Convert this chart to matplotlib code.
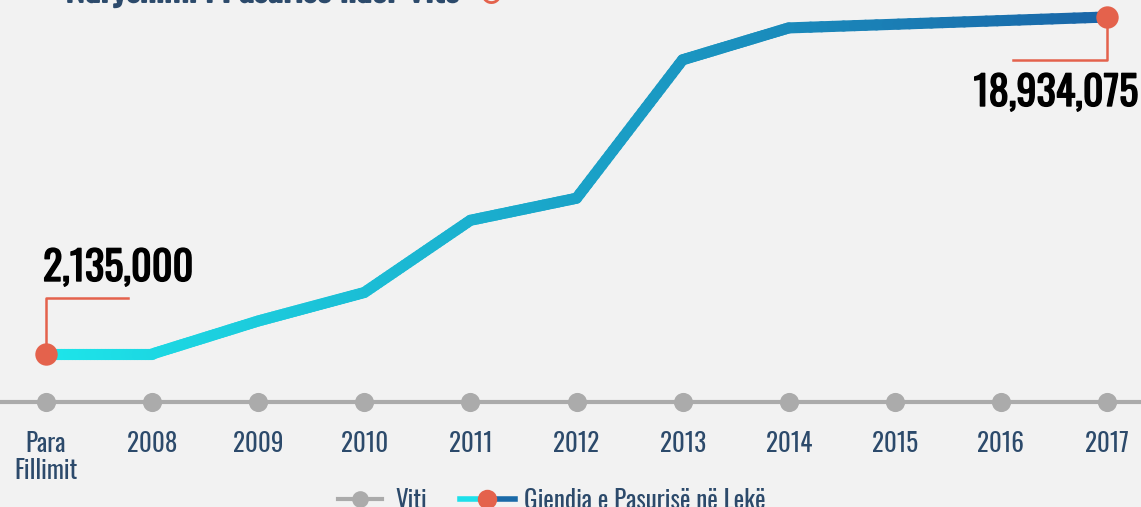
import numpy as np
import matplotlib
matplotlib.use('Agg')
import matplotlib.pyplot as plt
import matplotlib.patheffects as pe
from matplotlib.collections import LineCollection
from matplotlib.colors import LinearSegmentedColormap
from matplotlib.lines import Line2D
import matplotlib.transforms as mtransforms

# Data
categories = ['Para\nFillimit', '2008', '2009', '2010', '2011', '2012',
              '2013', '2014', '2015', '2016', '2017']
series_years = ['Para\nFillimit', '2008', '2009', '2010', '2011', '2012', '2013', '2014', '2017']
wealth = [2135000, 2135000, 3780000, 5200000, 8800000, 9900000, 16800000, 18390000, 18934075]
title = 'Ndryshimi i Pasurisë ndër Vite'
legend_labels = ['Viti', 'Gjendja e Pasurisë në Lekë']

BG = '#f2f2f2'
NAVY = '#2c4a6b'
GREY = '#ababab'
RED = '#e4624c'
FONT = ['Oswald', 'Roboto Condensed', 'DejaVu Sans']

W, H = 1141, 507
fig = plt.figure(figsize=(W / 100, H / 100), dpi=100, facecolor=BG)
ax = fig.add_axes([0, 0, 1, 1])
ax.set_facecolor(BG)
ax.axis('off')

# pixel mapping: index 0 at x=46px, step 106.1px
step = 106.1
ax.set_xlim(-46 / step, (W - 46) / step)
per_px = (wealth[-1] - wealth[0]) / (354 - 17)
ax.set_ylim(wealth[0] - (H - 354) * per_px, wealth[0] + 354 * per_px)

xi = np.arange(len(categories))
sx = np.array([categories.index(c) for c in series_years], dtype=float)
sy = np.array(wealth, dtype=float)

# timeline (x in data, y in axes fraction)
trans = mtransforms.blended_transform_factory(ax.transData, ax.transAxes)
line_y = 1 - 402 / H
ax.plot([-1, 11], [line_y, line_y], color=GREY, lw=3, transform=trans, zorder=1)
ax.scatter(xi, [line_y] * len(xi), s=190, color=GREY, transform=trans, zorder=2, lw=0)
for i, lab in enumerate(categories):
    ax.text(i, 1 - 431 / H, lab, transform=trans, ha='center', va='top',
            fontsize=18, color=NAVY, family=FONT, linespacing=1.05)

# gradient wealth line
cmap = LinearSegmentedColormap.from_list('g', ['#1de6ea', '#1aa3c8', '#1a66a8'])
segs, cols = [], []
for k in range(len(sx) - 1):
    t = np.linspace(0, 1, 30)
    xs = sx[k] + (sx[k + 1] - sx[k]) * t
    ys = sy[k] + (sy[k + 1] - sy[k]) * t
    pts = np.column_stack([xs, ys])
    for j in range(len(pts) - 1):
        segs.append(pts[j:j + 2])
        cols.append(cmap(((xs[j] + xs[j + 1]) / 2) / sx[-1]))
lc = LineCollection(segs, colors=cols, linewidths=8, capstyle='round',
                    joinstyle='round', zorder=3)
ax.add_collection(lc)

ax.scatter([sx[0], sx[-1]], [sy[0], sy[-1]], s=260, color=RED, zorder=5, lw=0)

# callouts (pixel offsets converted to data)
def py(p):
    return wealth[0] + (354 - p) * per_px

def pxx(p):
    return (p - 46) / step

bold_k = [pe.withStroke(linewidth=1.0, foreground='black')]
ax.plot([sx[0], sx[0], pxx(128)], [sy[0], py(298), py(298)], color=RED, lw=1.8, zorder=4)
ax.text(pxx(43), py(268), f'{wealth[0]:,}', ha='left', va='center', fontsize=29,
        fontweight='bold', color='black', family=FONT, path_effects=bold_k)
ax.plot([sx[-1], sx[-1], pxx(1013)], [sy[-1], py(60), py(60)], color=RED, lw=1.8, zorder=4)
ax.text(pxx(1138), py(93), f'{wealth[-1]:,}', ha='right', va='center', fontsize=29,
        fontweight='bold', color='black', family=FONT, path_effects=bold_k)

# title (cut by top edge)
fig.text(263 / W, 1 - (-9) / H, title, ha='center', va='center', fontsize=26,
         fontweight='bold', color=NAVY, family=FONT,
         path_effects=[pe.withStroke(linewidth=1.4, foreground=NAVY)])
fig.text(490 / W, 1 - (-3) / H, '↻', ha='center', va='center', fontsize=24,
         color=RED, family=['DejaVu Sans'])

# legend
def fp(x, y):
    return x / W, 1 - y / H

ly = 499
fig.add_artist(Line2D(*zip(fp(338, ly), fp(382, ly)), color=GREY, lw=3,
                      transform=fig.transFigure))
fig.add_artist(Line2D([fp(360, ly)[0]], [fp(360, ly)[1]], marker='o', ms=12,
                      color=GREY, mew=0, transform=fig.transFigure))
fig.text(*fp(395, ly + 2), legend_labels[0], ha='left', va='center', fontsize=18,
         color=NAVY, family=FONT)
fig.add_artist(Line2D(*zip(fp(460, ly), fp(488, ly)), color='#1de0ea', lw=4,
                      transform=fig.transFigure))
fig.add_artist(Line2D(*zip(fp(488, ly), fp(515, ly)), color='#1a6aa8', lw=4,
                      transform=fig.transFigure))
fig.add_artist(Line2D([fp(487, ly)[0]], [fp(487, ly)[1]], marker='o', ms=14,
                      color=RED, mew=0, transform=fig.transFigure))
fig.text(*fp(524, ly + 2), legend_labels[1], ha='left', va='center', fontsize=18,
         color=NAVY, family=FONT)

fig.savefig('out.png', dpi=100, facecolor=BG)
